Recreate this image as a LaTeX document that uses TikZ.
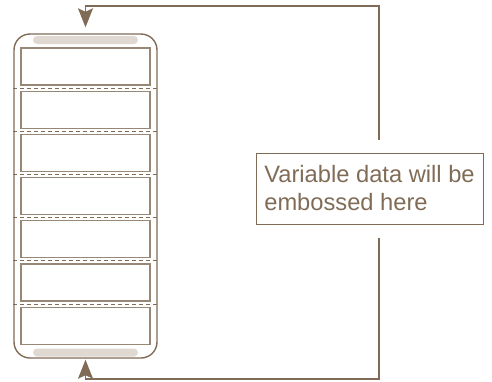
\documentclass[tikz,border=0pt]{standalone}
\usepackage{fontspec}
\setmainfont{Liberation Sans}
\usetikzlibrary{arrows.meta,calc}
\definecolor{brn}{RGB}{128,108,86}
\definecolor{brnl}{RGB}{150,135,118}
\definecolor{pill}{RGB}{224,217,210}
\begin{document}
\begin{tikzpicture}[x=1pt,y=-1pt,
  conn/.style={draw=brn,line width=1.4pt,-{Stealth[length=19pt,width=15pt,inset=3.5pt]}},
  outerbox/.style={draw=brn,line width=1.4pt,rounded corners=16pt,minimum width=143pt,minimum height=324pt,inner sep=0pt},
  pillbar/.style={fill=pill,rounded corners=4pt,minimum width=105pt,minimum height=8pt,inner sep=0pt},
  rowbox/.style={draw=brnl,line width=1.1pt,inner sep=0pt,minimum width=129pt,minimum height=37pt},
  sep/.style={draw=brn,line width=1pt,dash pattern=on 4pt off 3pt},
  textbox/.style={draw=brn,line width=1pt,minimum width=227pt,minimum height=71pt,inner sep=0pt,text=brn,
    align=left,font=\fontsize{23.7}{28}\selectfont}
]
\useasboundingbox (0,0) rectangle (492,381);
\node[outerbox] (outer) at (85.5,196) {};
\node[pillbar] (ptop) at (85.5,40) {};
\node[pillbar] (pbot) at (85.5,352.5) {};
\foreach \i in {0,...,6} {
  \node[rowbox] (r\i) at (85.5,{66.5+43.2*\i}) {};
}
\foreach \i in {1,...,6} {
  \draw[sep] ($(outer.west)+(0,{88-196+43.2*(\i-1)})$) coordinate (sl\i) -- ($(outer.east)+(0,{88-196+43.2*(\i-1)})$) coordinate (sr\i);
}
\node[textbox] (tb) at (369.5,188.5) {Variable data will be\\embossed here};
\coordinate (tr) at (379,6);
\coordinate (br) at (379,379);
\draw[conn] ([yshift=13pt]tb.north -| tr) -- (tr) -| ([yshift=6pt]outer.north);
\draw[conn] ([yshift=-13pt]tb.south -| br) -- (br) -| ([yshift=-1pt]outer.south);
\end{tikzpicture}
\end{document}
